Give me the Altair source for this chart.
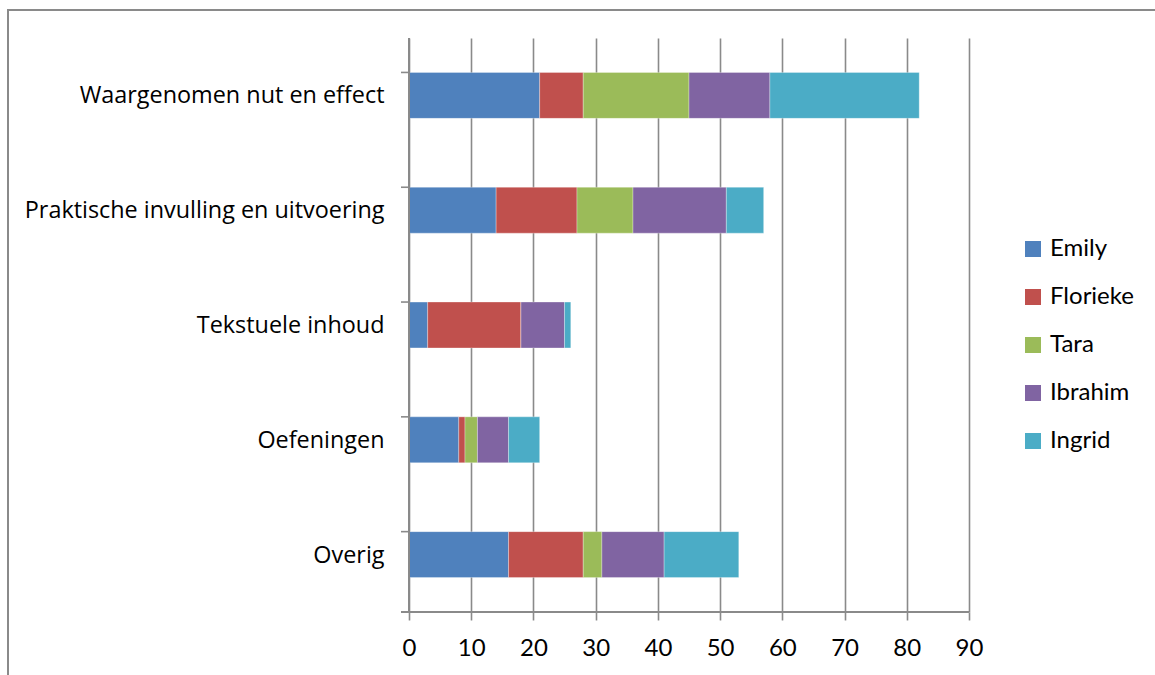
import altair as alt
import pandas as pd

categories = ["Waargenomen nut en effect", "Praktische invulling en uitvoering",
              "Tekstuele inhoud", "Oefeningen", "Overig"]
people = ["Emily", "Florieke", "Tara", "Ibrahim", "Ingrid"]
colors = ["#4F81BD", "#C0504D", "#9BBB59", "#8064A2", "#4BACC6"]
emily = [21, 14, 3, 8, 16]
florieke = [7, 13, 15, 1, 12]
tara = [17, 9, 0, 2, 3]
ibrahim = [13, 15, 7, 5, 10]
ingrid = [24, 6, 1, 5, 12]
x_ticks = [0, 10, 20, 30, 40, 50, 60, 70, 80, 90]

series = [emily, florieke, tara, ibrahim, ingrid]
rows = []
for pi, (p, vals) in enumerate(zip(people, series)):
    for c, v in zip(categories, vals):
        rows.append({"cat": c, "person": p, "value": v, "ord": pi})
df = pd.DataFrame(rows)
cat_df = pd.DataFrame({"cat": categories})

FONT = "Open Sans"
NFONT = "Lato"
W, H = 560, 574
GRID = "#8a8a8a"

yscale = alt.Scale(domain=categories, paddingInner=0.6, paddingOuter=0.3)

bars = alt.Chart(df).mark_bar(stroke="white", strokeWidth=0.6, strokeOpacity=0.5).encode(
    x=alt.X("value:Q", stack="zero",
            scale=alt.Scale(domain=[0, 90], nice=False),
            axis=alt.Axis(values=x_ticks, title=None, grid=True, gridColor=GRID,
                          gridWidth=1.6, domain=False, tickColor=GRID, tickWidth=1.6,
                          tickSize=8, labelPadding=16, labelFontSize=24,
                          labelFont=NFONT, labelColor="#000", labelFlush=False)),
    y=alt.Y("cat:N", sort=categories, scale=yscale,
            axis=alt.Axis(title=None, ticks=False, domain=False, labelPadding=25,
                          labelFontSize=23.4, labelFont=FONT, labelColor="#000",
                          labelLimit=400, labelBaseline="middle", labelOffset=1)),
    color=alt.Color("person:N", scale=alt.Scale(domain=people, range=colors),
                    legend=alt.Legend(title=None, orient="none", legendX=612, legendY=199,
                                      symbolType="square", symbolSize=256,
                                      symbolStrokeWidth=0, labelFontSize=24,
                                      labelFont=NFONT, labelColor="#000",
                                      rowPadding=24, labelOffset=5)),
    order=alt.Order("ord:Q"),
)

yticks = alt.Chart(cat_df).mark_rule(color=GRID, strokeWidth=1.6).encode(
    y=alt.Y("cat:N", sort=categories, scale=yscale, bandPosition=0),
    x=alt.value(-8), x2=alt.value(0),
)

yaxis_line = alt.Chart(cat_df).mark_rule(color=GRID, strokeWidth=1.6).encode(
    x=alt.value(0), y=alt.value(0), y2=alt.value(H))
xaxis_line = alt.Chart(cat_df).mark_rule(color=GRID, strokeWidth=1.6).encode(
    x=alt.value(-8), x2=alt.value(W), y=alt.value(H))

border = alt.Chart(cat_df).mark_rect(fill=None, stroke=GRID, strokeWidth=2, clip=False).encode(
    x=alt.value(-401), x2=alt.value(770), y=alt.value(-28), y2=alt.value(680))

chart = alt.layer(border, bars, yticks, yaxis_line, xaxis_line).properties(
    width=W, height=H,
    autosize=alt.AutoSizeParams(type="none"),
    padding={"left": 409, "top": 38, "right": 186, "bottom": 63},
    background="white",
).configure_view(stroke=None)

chart.save("out.html", embed_options={"renderer": "svg", "actions": False})
